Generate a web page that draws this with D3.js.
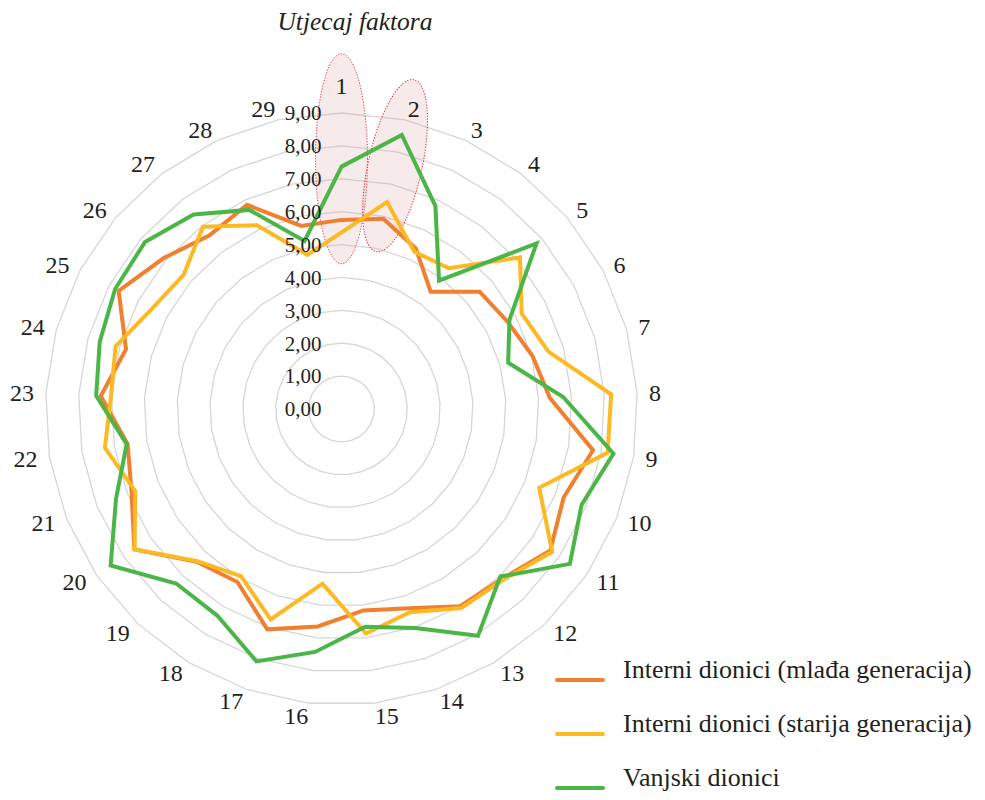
<!DOCTYPE html>
<html>
<head>
<meta charset="utf-8">
<script src="https://cdn.jsdelivr.net/npm/d3@7"></script>
<style>
  html, body { margin: 0; padding: 0; background: #ffffff; }
  svg { display: block; }
  text { font-family: "Liberation Serif", "Times New Roman", serif; fill: #231f20; }
</style>
</head>
<body>
<svg id="chart" width="985" height="800"></svg>
<script>
// Factor numbers around the radar (one spoke each)
const categories = d3.range(1, 30).map(String);

// Ratings per factor for each stakeholder group
const mladaGeneracija = [5.75, 5.92, 5.38, 4.48, 5.51, 5.70, 6.03, 6.34, 7.75, 7.27,
                         7.67, 7.11, 7.00, 6.39, 6.16, 6.65, 7.07, 6.14, 6.40, 7.61,
                         6.87, 6.59, 7.33, 6.80, 7.67, 7.09, 6.63, 6.84, 5.70];
const starijaGeneracija = [5.37, 6.44, 5.27, 5.38, 7.12, 6.20, 6.53, 8.21, 8.20, 6.47,
                           7.74, 7.15, 7.06, 6.52, 6.87, 5.34, 6.75, 5.93, 6.37, 7.60,
                           6.75, 7.29, 7.02, 7.13, 6.52, 6.30, 6.96, 6.16, 4.80];
const vanjskiDionici = [7.37, 8.53, 6.80, 4.90, 7.78, 5.78, 5.26, 6.75, 8.38, 7.86,
                        8.39, 7.02, 8.05, 7.03, 6.66, 7.43, 8.10, 7.33, 7.31, 8.48,
                        7.38, 6.62, 7.47, 7.63, 7.79, 7.84, 7.43, 6.67, 5.23];

const seriesNames = ["Interni dionici (mlađa generacija)",
                     "Interni dionici (starija generacija)",
                     "Vanjski dionici"];
const seriesColors = ["#f07f2f", "#fdb923", "#4cb548"];

// Value axis ticks
const tickValues = d3.range(0, 10);
const formatTick = v => v.toFixed(2).replace(".", ",");

// Highlighted factors (ellipses spanning a value range along their spoke)
const highlights = [
  { factor: "1", from: 4.42, to: 10.8, halfWidth: 26 },
  { factor: "2", from: 4.90, to: 10.25, halfWidth: 27 }
];

const chartTitle = "Utjecaj faktora";

// ---------------------------------------------------------------------------
const svg = d3.select("#chart");
const cx = 341.5, cy = 409, R = 296;

const rScale = d3.scaleLinear().domain([0, 9]).range([0, R]);
const angle = d3.scaleBand().domain(categories).range([0, 2 * Math.PI]).align(0).paddingInner(0);
const angleOf = c => angle(c);

const g = svg.append("g").attr("transform", `translate(${cx},${cy})`);

// Concentric polygonal grid rings
tickValues.filter(v => v > 0).forEach(v => {
  const line = d3.lineRadial().curve(d3.curveLinearClosed)
    .angle(d => angleOf(d)).radius(() => rScale(v));
  g.append("path")
    .attr("d", line(categories))
    .attr("fill", "none")
    .attr("stroke", "#d6d6d6")
    .attr("stroke-width", 1.3);
});

// Highlight ellipses
highlights.forEach(h => {
  const a = angleOf(h.factor);
  const rMid = rScale((h.from + h.to) / 2);
  const ry = (rScale(h.to) - rScale(h.from)) / 2;
  const x = rMid * Math.sin(a), y = -rMid * Math.cos(a);
  g.append("ellipse")
    .attr("transform", `translate(${x},${y}) rotate(${a * 180 / Math.PI})`)
    .attr("rx", h.halfWidth).attr("ry", ry)
    .attr("fill", "rgba(214,160,160,0.22)")
    .attr("stroke", "#e8202a")
    .attr("stroke-width", 1)
    .attr("stroke-dasharray", "1.2,1.6");
});

// Series lines
const seriesData = [mladaGeneracija, starijaGeneracija, vanjskiDionici];
const radial = d3.lineRadial().curve(d3.curveLinearClosed)
  .angle((d, i) => angleOf(categories[i]))
  .radius(d => rScale(d));

seriesData.forEach((vals, i) => {
  g.append("path")
    .attr("d", radial(vals))
    .attr("fill", "none")
    .attr("stroke", seriesColors[i])
    .attr("stroke-width", 4)
    .attr("stroke-linejoin", "miter");
});

// Value axis labels
g.selectAll("text.tick")
  .data(tickValues)
  .join("text")
  .attr("class", "tick")
  .attr("x", -20)
  .attr("y", d => -rScale(d))
  .attr("dy", "0.35em")
  .attr("text-anchor", "end")
  .attr("font-size", 21)
  .text(formatTick);

// Category labels around the outside: anchored on the side facing the chart
const labelR = 308;
g.selectAll("text.cat")
  .data(categories)
  .join("text")
  .attr("class", "cat")
  .attr("font-size", 24)
  .attr("dy", "0.35em")
  .each(function (d, i) {
    const a = angleOf(d);
    const s = Math.sin(a);
    // first spoke label sits higher, clear of the value labels
    const r = labelR + (i === 0 ? 15 : 0);
    d3.select(this)
      .attr("x", r * s)
      .attr("y", -r * Math.cos(a))
      .attr("text-anchor", Math.abs(s) < 0.01 ? "middle" : (s > 0 ? "start" : "end"));
  })
  .text(d => d);

// Title
svg.append("text")
  .attr("x", 355).attr("y", 30)
  .attr("text-anchor", "middle")
  .attr("font-size", 25.5)
  .attr("font-style", "italic")
  .text(chartTitle);

// Legend
const legend = svg.append("g").attr("transform", "translate(557,680)");
seriesNames.forEach((name, i) => {
  const row = legend.append("g").attr("transform", `translate(0,${i * 54})`);
  row.append("line")
    .attr("x1", 0).attr("x2", 46).attr("y1", 0).attr("y2", 0)
    .attr("stroke", seriesColors[i]).attr("stroke-width", 4)
    .attr("stroke-linecap", "round");
  row.append("text")
    .attr("x", 66).attr("y", -2)
    .attr("font-size", 26)
    .text(name);
});
</script>
</body>
</html>
